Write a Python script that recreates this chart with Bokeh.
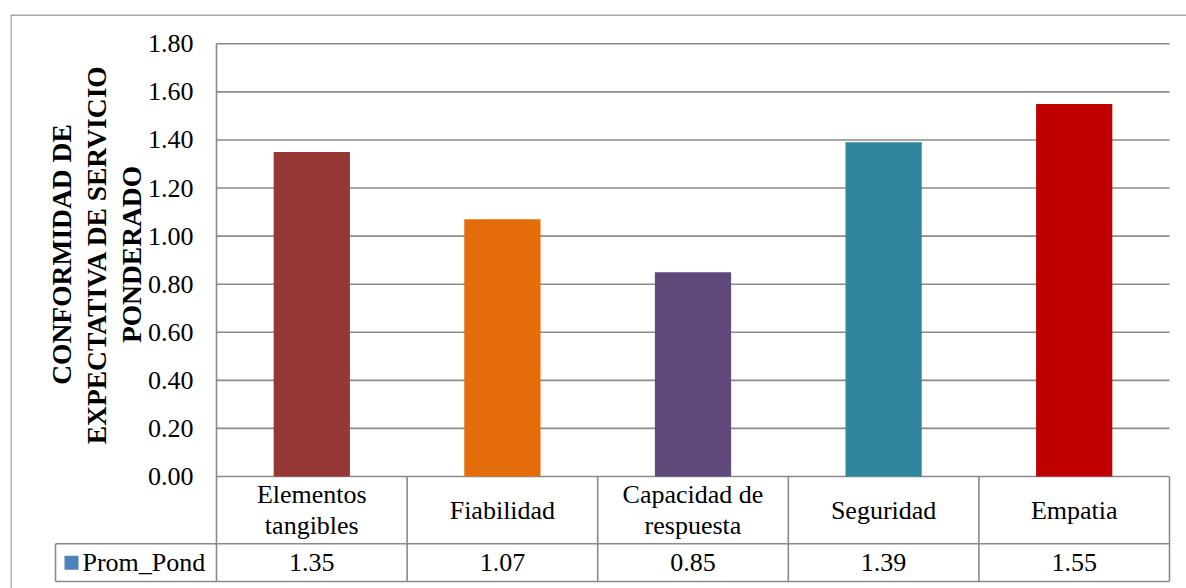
import numpy as np
from bokeh.plotting import figure
from bokeh.models import Range1d, LinearAxis, FixedTicker, NumeralTickFormatter, ColumnDataSource
from bokeh.core.properties import value
from bokeh.embed import file_html
from bokeh.resources import INLINE

# ---------------- data ----------------
categories = ["Elementos tangibles", "Fiabilidad", "Capacidad de respuesta", "Seguridad", "Empatia"]
category_labels = ["Elementos\ntangibles", "Fiabilidad", "Capacidad de\nrespuesta", "Seguridad", "Empatia"]
prom_pond = [1.35, 1.07, 0.85, 1.39, 1.55]
bar_colors = ["#953735", "#E46C0A", "#604A7B", "#31859C", "#C00000"]
y_ticks = [0.0, 0.2, 0.4, 0.6, 0.8, 1.0, 1.2, 1.4, 1.6, 1.8]
series_name = "Prom_Pond"
series_color = "#4F81BD"
y_title = "CONFORMIDAD DE\nEXPECTATIVA DE SERVICIO\nPONDERADO"

# ---------------- layout (page pixels) ----------------
W, H = 1186, 588
PAGE = 0
frame_left_pg, frame_top_pg = 10, 14
frame_right_pg, frame_bottom_pg = PAGE + W, PAGE + H
plot_left_pg, plot_right_pg = 216, 1169
zero_pg, top_pg = 476, 43.3
row1_pg, row2_pg = 543.3, 581
legend_left_pg = 55

n = len(categories)
xpx = (plot_right_pg - plot_left_pg) / n
ymax = y_ticks[-1]
ypx = (zero_pg - top_pg) / ymax

def dx(px):
    return (px - plot_left_pg) / xpx

def dy(py):
    return (zero_pg - py) / ypx

x_range = Range1d(dx(frame_left_pg), dx(frame_right_pg))
y_range = Range1d(dy(frame_bottom_pg), dy(frame_top_pg))

p = figure(width=W, height=H, x_range=x_range, y_range=y_range,
           x_axis_type=None, y_axis_type=None, output_backend="svg",
           toolbar_location=None, min_border_left=frame_left_pg - PAGE,
           min_border_top=frame_top_pg - PAGE, min_border_right=0, min_border_bottom=0)
p.outline_line_color = None
p.xgrid.visible = False
p.ygrid.visible = False
p.background_fill_color = "white"
p.border_fill_color = "white"

FONT = "Liberation Serif"
FS = "26px"
GRID = "#8a8a8a"

# outer chart border (left and top visible)
p.segment(x0=[dx(frame_left_pg + 0.5), dx(frame_left_pg + 0.5)],
          y0=[dy(frame_bottom_pg), dy(frame_top_pg + 0.5)],
          x1=[dx(frame_left_pg + 0.5), dx(frame_right_pg)],
          y1=[dy(frame_top_pg + 0.5), dy(frame_top_pg + 0.5)],
          line_color=GRID, line_width=1.3)

# gridlines
p.segment(x0=[0] * len(y_ticks), x1=[n] * len(y_ticks), y0=y_ticks, y1=y_ticks,
          line_color=GRID, line_width=1.6)

# bars
xc = [i + 0.5 for i in range(n)]
src = ColumnDataSource(dict(x=xc, top=prom_pond, color=bar_colors, cat=categories))
p.vbar(x="x", top="top", bottom=0, width=0.4, fill_color="color", line_color=None, source=src)

# data table lines
r1, r2 = dy(row1_pg), dy(row2_pg)
lx = dx(legend_left_pg)
p.segment(x0=[lx, lx], x1=[n, n], y0=[r1, r2], y1=[r1, r2], line_color=GRID, line_width=1.6)
p.segment(x0=list(range(1, n + 1)), x1=list(range(1, n + 1)), y0=[0] * n, y1=[r2] * n,
          line_color=GRID, line_width=1.6)
p.segment(x0=[lx], x1=[lx], y0=[r1], y1=[r2], line_color=GRID, line_width=1.6)

# table texts
p.text(x=xc, y=[(0 + r1) / 2] * n, text=category_labels, text_font=value(FONT),
       text_font_size=FS, text_align="center", text_baseline="middle", text_color="black",
       text_line_height=1.05)
p.text(x=xc, y=[(r1 + r2) / 2] * n, text=["%.2f" % v for v in prom_pond], text_font=value(FONT),
       text_font_size=FS, text_align="center", text_baseline="middle", text_color="black")

# legend key in table
p.scatter(x=[dx(71)], y=[(r1 + r2) / 2], marker="square", size=14,
          fill_color=series_color, line_color=None)
p.text(x=[dx(82)], y=[(r1 + r2) / 2], text=[series_name], text_font=value(FONT),
       text_font_size=FS, text_align="left", text_baseline="middle", text_color="black")

# y axis title
p.text(x=[dx(96)], y=[dy(254)], text=[y_title], angle=np.pi / 2, text_font=value(FONT),
       text_font_size="27.5px", text_font_style="bold", text_align="center", text_baseline="middle",
       text_color="black", text_line_height=1.13)

# y axis
yaxis = LinearAxis(fixed_location=0, ticker=FixedTicker(ticks=y_ticks),
                   formatter=NumeralTickFormatter(format="0.00"), bounds=(r2, ymax))
yaxis.axis_line_color = GRID
yaxis.axis_line_width = 1.6
yaxis.major_tick_in = 0
yaxis.major_tick_out = 0
yaxis.minor_tick_line_color = None
yaxis.major_label_standoff = 23
yaxis.major_label_text_font = FONT
yaxis.major_label_text_font_size = FS
yaxis.major_label_text_color = "black"
p.add_layout(yaxis, "left")

open("out.html", "w").write(file_html(p, INLINE))
